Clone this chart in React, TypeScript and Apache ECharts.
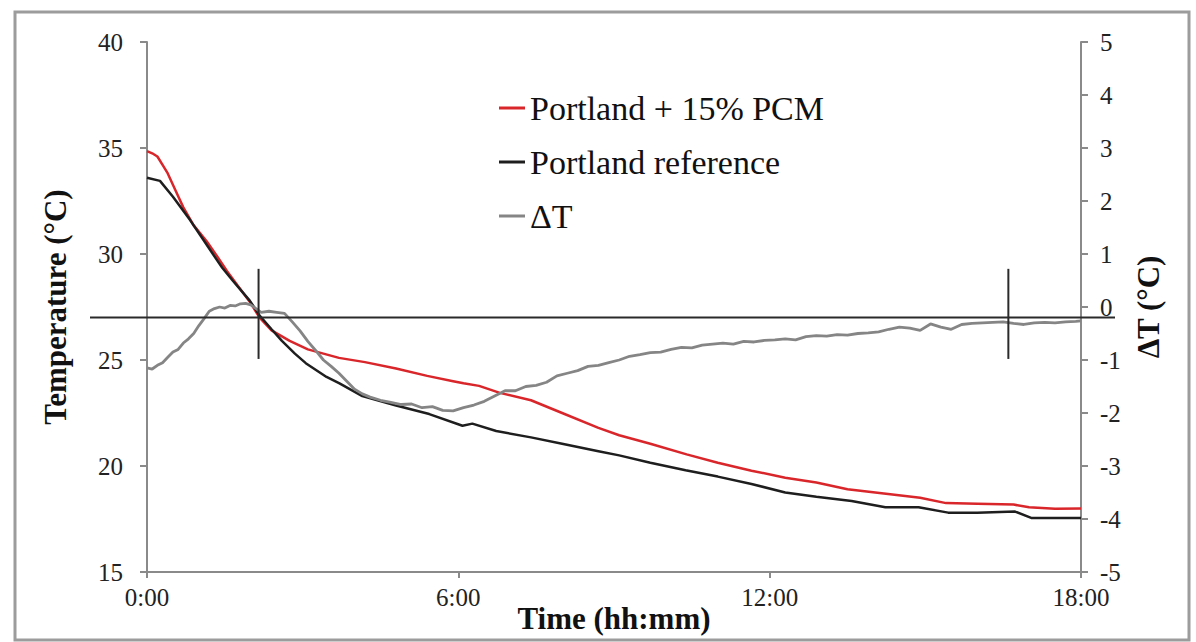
import React, { useEffect, useRef } from "react";
import * as echarts from "echarts";

const seriesNames = ["Portland + 15% PCM", "Portland reference", "ΔT"];

// [time in hours, temperature °C]
const pcmData: [number, number][] = [
  [0, 34.85], [0.1, 34.75], [0.2, 34.6], [0.3, 34.2], [0.4, 33.8], [0.55, 33.0], [0.7, 32.2],
  [0.9, 31.35], [1.15, 30.6], [1.35, 29.9], [1.54, 29.2], [1.75, 28.5], [1.98, 27.75], [2.17, 27.0],
  [2.4, 26.4], [2.75, 25.9], [3.1, 25.5], [3.4, 25.3], [3.7, 25.1], [4.2, 24.9], [4.8, 24.6],
  [5.4, 24.25], [5.9, 24.0], [6.1, 23.9], [6.4, 23.78], [6.8, 23.45], [7.4, 23.1], [8.0, 22.5],
  [8.7, 21.8], [9.1, 21.45], [9.7, 21.05], [10.4, 20.55], [11.0, 20.15], [11.65, 19.78],
  [12.3, 19.45], [12.9, 19.22], [13.5, 18.9], [14.2, 18.7], [14.9, 18.5], [15.4, 18.25],
  [16.0, 18.22], [16.7, 18.18], [17.0, 18.05], [17.5, 17.98], [18, 18.0],
];

const refData: [number, number][] = [
  [0, 33.6], [0.25, 33.45], [0.5, 32.7], [0.83, 31.6], [1.05, 30.8], [1.27, 30.0], [1.45, 29.35],
  [1.65, 28.75], [1.98, 27.8], [2.17, 27.1], [2.4, 26.45], [2.6, 25.9], [2.85, 25.3], [3.06, 24.85],
  [3.46, 24.2], [3.71, 23.9], [4.15, 23.3], [4.8, 22.85], [5.44, 22.45], [6.08, 21.9], [6.27, 22.0],
  [6.73, 21.65], [7.4, 21.35], [8.0, 21.05], [8.7, 20.7], [9.1, 20.5], [9.7, 20.15], [10.38, 19.8],
  [11.0, 19.5], [11.65, 19.15], [12.3, 18.75], [12.9, 18.55], [13.58, 18.35], [14.23, 18.05],
  [14.87, 18.05], [15.44, 17.8], [16.0, 17.8], [16.73, 17.85], [17.04, 17.55], [17.5, 17.55], [18, 17.55],
];

// [time in hours, ΔT °C]
const deltaData: [number, number][] = [
  [0, -1.15], [0.1, -1.17], [0.2, -1.1], [0.3, -1.05], [0.4, -0.95], [0.5, -0.85], [0.6, -0.8],
  [0.7, -0.68], [0.8, -0.6], [0.9, -0.5], [1.0, -0.35], [1.1, -0.22], [1.2, -0.08], [1.3, -0.03],
  [1.4, 0.0], [1.5, -0.02], [1.6, 0.03], [1.7, 0.02], [1.8, 0.06], [1.9, 0.07], [2.0, 0.04],
  [2.1, -0.03], [2.2, -0.1], [2.35, -0.08], [2.5, -0.1], [2.65, -0.12], [2.8, -0.28], [2.95, -0.45],
  [3.1, -0.65], [3.25, -0.82], [3.4, -1.0], [3.55, -1.12], [3.7, -1.25], [3.85, -1.4], [4.0, -1.55],
  [4.15, -1.64], [4.3, -1.7], [4.5, -1.76], [4.7, -1.8], [4.9, -1.84], [5.1, -1.83], [5.3, -1.9],
  [5.5, -1.88], [5.7, -1.95], [5.9, -1.96], [6.1, -1.9], [6.3, -1.85], [6.5, -1.78], [6.7, -1.68],
  [6.9, -1.58], [7.1, -1.58], [7.3, -1.5], [7.5, -1.48], [7.7, -1.42], [7.9, -1.3], [8.1, -1.25],
  [8.3, -1.2], [8.5, -1.12], [8.7, -1.1], [8.9, -1.05], [9.1, -1.0], [9.3, -0.93], [9.5, -0.9],
  [9.7, -0.86], [9.9, -0.85], [10.1, -0.8], [10.3, -0.76], [10.5, -0.77], [10.7, -0.72], [10.9, -0.7],
  [11.1, -0.68], [11.3, -0.7], [11.5, -0.65], [11.7, -0.66], [11.9, -0.63], [12.1, -0.62], [12.3, -0.6],
  [12.5, -0.62], [12.7, -0.56], [12.9, -0.54], [13.1, -0.55], [13.3, -0.52], [13.5, -0.53], [13.7, -0.5],
  [13.9, -0.49], [14.1, -0.47], [14.3, -0.42], [14.5, -0.38], [14.7, -0.4], [14.9, -0.44], [15.1, -0.32],
  [15.3, -0.38], [15.5, -0.42], [15.7, -0.33], [15.9, -0.31], [16.1, -0.3], [16.3, -0.29], [16.5, -0.28],
  [16.7, -0.31], [16.9, -0.33], [17.1, -0.3], [17.3, -0.29], [17.5, -0.3], [17.7, -0.28], [17.9, -0.27],
  [18, -0.26],
];

const thresholdTemp = 27;
const markerTimes = [2.15, 16.6];
const markerTempRange = [29.3, 25.05];

const FONT = "Liberation Serif";
const AXIS_GREY = "#8a8a8a";

export default function App() {
  const ref = useRef<HTMLDivElement>(null);

  useEffect(() => {
    const chart = echarts.init(ref.current!, null, { renderer: "svg" });
    const nameStyle = { color: "#111", fontFamily: FONT, fontSize: 31, fontWeight: "bold" as const };

    chart.setOption({
      animation: false,
      backgroundColor: "#ffffff",
      grid: { left: 147, right: 115, top: 42, bottom: 70, outerBoundsMode: "none" },
      legend: {
        orient: "vertical",
        left: 494,
        top: 84,
        itemWidth: 26,
        itemHeight: 3,
        itemGap: 16,
        icon: "rect",
        data: seriesNames,
        textStyle: { fontFamily: FONT, fontSize: 34, color: "#111", lineHeight: 38 },
      },
      xAxis: {
        type: "value",
        min: 0,
        max: 18,
        interval: 6,
        name: "Time (hh:mm)",
        nameLocation: "middle",
        nameGap: 31,
        nameMoveOverlap: false,
        nameTextStyle: nameStyle,
        axisLine: { show: true, onZero: false, lineStyle: { color: AXIS_GREY, width: 2 } },
        axisTick: { show: true, length: 6, lineStyle: { color: AXIS_GREY, width: 2 } },
        axisLabel: {
          fontFamily: FONT,
          fontSize: 25,
          color: "#222",
          margin: 13,
          formatter: (v: number) => `${v}:00`,
        },
        splitLine: { show: false },
      },
      yAxis: [
        {
          type: "value",
          min: 15,
          max: 40,
          interval: 5,
          position: "left",
          name: "Temperature (°C)",
          nameLocation: "middle",
          nameRotate: 90,
          nameGap: 76,
          nameMoveOverlap: false,
          nameTextStyle: nameStyle,
          axisLine: { show: true, onZero: false, lineStyle: { color: AXIS_GREY, width: 2 } },
          axisTick: { show: true, length: 7, lineStyle: { color: AXIS_GREY, width: 2 } },
          axisLabel: { fontFamily: FONT, fontSize: 25, color: "#222", margin: 24 },
          splitLine: { show: false },
        },
        {
          type: "value",
          min: -5,
          max: 5,
          interval: 1,
          position: "right",
          name: "ΔT (°C)",
          nameLocation: "middle",
          nameRotate: 90,
          nameGap: 52,
          nameMoveOverlap: false,
          nameTextStyle: nameStyle,
          axisLine: { show: true, onZero: false, lineStyle: { color: AXIS_GREY, width: 2 } },
          axisTick: { show: true, length: 7, lineStyle: { color: AXIS_GREY, width: 2 } },
          axisLabel: { fontFamily: FONT, fontSize: 25, color: "#222", margin: 19 },
          splitLine: { show: false },
        },
      ],
      series: [
        {
          name: seriesNames[0],
          type: "line",
          yAxisIndex: 0,
          data: pcmData,
          showSymbol: false,
          color: "#d9262b",
          lineStyle: { color: "#d9262b", width: 2.5 },
        },
        {
          name: seriesNames[1],
          type: "line",
          yAxisIndex: 0,
          data: refData,
          showSymbol: false,
          color: "#1e1e1e",
          lineStyle: { color: "#1e1e1e", width: 2.5 },
        },
        {
          name: seriesNames[2],
          type: "line",
          yAxisIndex: 1,
          data: deltaData,
          showSymbol: false,
          color: "#858585",
          lineStyle: { color: "#858585", width: 2.8 },
        },
      ],
    });

    const yLine = chart.convertToPixel({ yAxisIndex: 0 }, thresholdTemp) as number;
    const yTop = chart.convertToPixel({ yAxisIndex: 0 }, markerTempRange[0]) as number;
    const yBot = chart.convertToPixel({ yAxisIndex: 0 }, markerTempRange[1]) as number;
    const markers = markerTimes.map((t) => {
      const x = chart.convertToPixel({ xAxisIndex: 0 }, t) as number;
      return {
        type: "line",
        z: 100,
        shape: { x1: x, y1: yTop, x2: x, y2: yBot },
        style: { stroke: "#2a2a2a", lineWidth: 2 },
      };
    });

    chart.setOption({
      graphic: [
        {
          type: "rect",
          z: -1,
          shape: { x: 15, y: 12, width: 1174, height: 628 },
          style: { fill: "none", stroke: "#9c9c9c", lineWidth: 3 },
        },
        {
          type: "line",
          z: 100,
          shape: { x1: 90, y1: yLine, x2: 1115, y2: yLine },
          style: { stroke: "#2a2a2a", lineWidth: 2 },
        },
        ...markers,
      ],
    });

    return () => chart.dispose();
  }, []);

  return (
    <div
      ref={ref}
      style={{ position: "absolute", left: 0, top: 0, width: 1196, height: 642 }}
    />
  );
}
